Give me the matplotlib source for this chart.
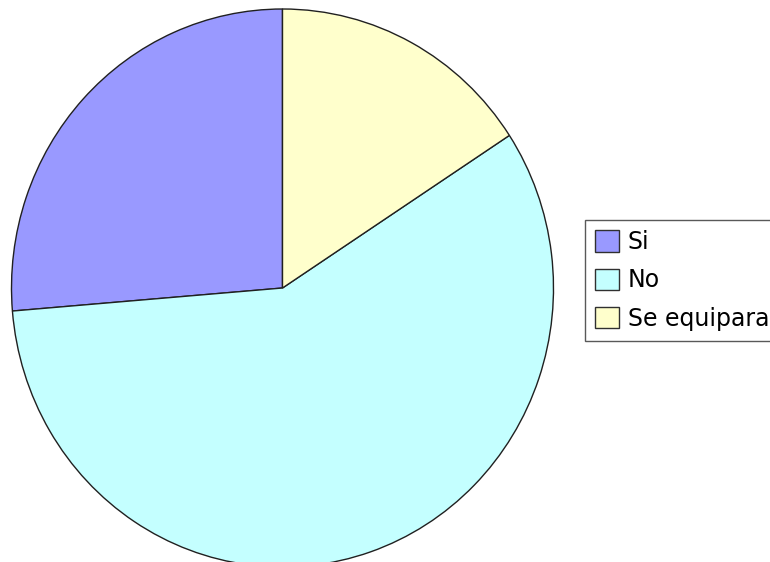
import matplotlib
matplotlib.use("Agg")
import matplotlib.pyplot as plt
from matplotlib.patches import Patch

labels = ["Si", "No", "Se equipara"]
values = [5, 11, 3]
colors = ["#9999ff", "#c4ffff", "#ffffcc"]

W, H = 770, 562
fig = plt.figure(figsize=(W / 100, H / 100), dpi=100)
fig.patch.set_facecolor("white")

cx, cy, rx, ry = 282.5, 288, 271, 279
ax = fig.add_axes([(cx - rx) / W, (H - cy - ry) / H, 2 * rx / W, 2 * ry / H])
wedges, _ = ax.pie(values, colors=colors, startangle=90, counterclock=True,
                   radius=1, wedgeprops=dict(edgecolor="#202020", linewidth=1.0))
ax.set_aspect("auto")
ax.set_xlim(-1, 1)
ax.set_ylim(-1, 1)
ax.axis("off")

handles = [Patch(facecolor=c, edgecolor="#303030", linewidth=1.0) for c in colors]
leg = fig.legend(handles, labels, loc="upper left",
                 bbox_to_anchor=(585 / W, 1 - 220 / H), borderaxespad=0,
                 prop=dict(family="DejaVu Sans", size=17),
                 frameon=True, fancybox=False, edgecolor="#303030",
                 handlelength=1.02, handleheight=1.02, handletextpad=0.38,
                 borderpad=0.42, labelspacing=0.61)
leg.get_frame().set_linewidth(1.0)

fig.savefig("out.png", dpi=100, facecolor="white")
